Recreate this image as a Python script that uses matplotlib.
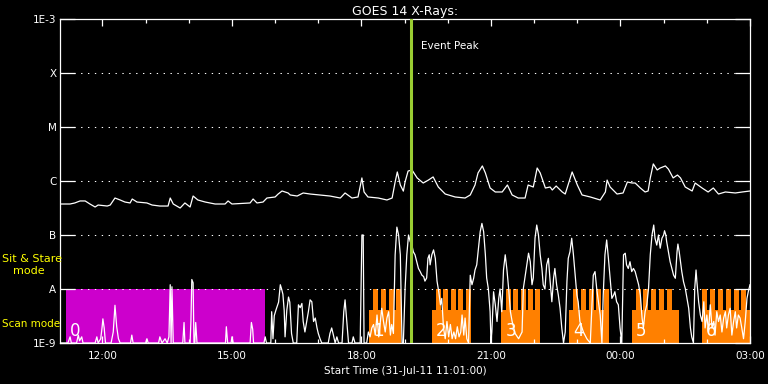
import numpy as np
import matplotlib
matplotlib.use('Agg')
import matplotlib.pyplot as plt
from matplotlib.ticker import MultipleLocator, NullFormatter, NullLocator

# GOES 14, hours counted from 00:00 on 31-Jul-11 (24 = 00:00 1-Aug)
long_hours = [11.02, 11.25, 11.36, 11.48, 11.60, 11.71, 11.83, 11.90, 12.11, 12.18, 12.29, 12.41,
              12.52, 12.64, 12.69, 12.80, 13.03, 13.15, 13.33, 13.52, 13.57, 13.64, 13.80, 13.91,
              14.03, 14.10, 14.21, 14.38, 14.61, 14.84, 14.91, 15.00, 15.42, 15.49, 15.58, 15.72,
              15.81, 16.00, 16.07, 16.16, 16.30, 16.35, 16.51, 16.65, 16.81, 17.04, 17.27, 17.51,
              17.62, 17.78, 17.92, 18.01, 18.06, 18.15, 18.39, 18.59, 18.71, 18.78, 18.83, 18.90,
              18.97, 19.01, 19.08, 19.17, 19.29, 19.43, 19.55, 19.66, 19.78, 19.94, 20.17, 20.40,
              20.52, 20.63, 20.70, 20.80, 20.87, 20.98, 21.10, 21.26, 21.38, 21.49, 21.63, 21.79,
              21.86, 21.98, 22.07, 22.14, 22.26, 22.37, 22.42, 22.51, 22.65, 22.72, 22.88, 23.00,
              23.11, 23.30, 23.53, 23.65, 23.69, 23.76, 23.92, 24.06, 24.16, 24.27, 24.34, 24.46,
              24.57, 24.64, 24.69, 24.76, 24.85, 24.92, 25.04, 25.11, 25.22, 25.32, 25.39, 25.50,
              25.66, 25.73, 25.89, 26.03, 26.15, 26.27, 26.43, 26.66, 26.82, 27.00]
long_flux = [3.75e-7, 3.75e-7, 3.92e-7, 4.27e-7, 4.27e-7, 3.75e-7, 3.30e-7, 3.59e-7, 3.44e-7, 3.59e-7,
             4.84e-7, 4.45e-7, 4.08e-7, 3.92e-7, 4.64e-7, 4.08e-7, 3.92e-7, 3.59e-7, 3.44e-7, 3.44e-7,
             4.84e-7, 3.75e-7, 3.16e-7, 3.92e-7, 3.30e-7, 5.27e-7, 4.45e-7, 4.08e-7, 3.75e-7, 3.75e-7,
             4.27e-7, 3.75e-7, 3.92e-7, 4.64e-7, 3.92e-7, 4.08e-7, 4.84e-7, 5.06e-7, 5.74e-7, 6.53e-7,
             6.00e-7, 5.51e-7, 5.27e-7, 6.00e-7, 5.74e-7, 5.51e-7, 5.27e-7, 4.84e-7, 6.00e-7, 4.84e-7,
             5.06e-7, 1.14e-6, 6.26e-7, 5.06e-7, 4.84e-7, 4.45e-7, 4.84e-7, 9.58e-7, 1.47e-6, 8.43e-7,
             6.50e-7, 9.60e-7, 1.53e-6, 1.60e-6, 1.14e-6, 9.18e-7, 1.04e-6, 1.19e-6, 7.74e-7, 5.74e-7,
             5.06e-7, 4.84e-7, 5.51e-7, 8.43e-7, 1.41e-6, 1.90e-6, 1.41e-6, 7.42e-7, 6.26e-7, 6.26e-7,
             8.43e-7, 5.51e-7, 4.84e-7, 4.84e-7, 8.43e-7, 7.74e-7, 1.74e-6, 1.41e-6, 7.42e-7, 7.74e-7,
             6.81e-7, 8.08e-7, 6.26e-7, 5.74e-7, 1.47e-6, 8.43e-7, 5.51e-7, 5.06e-7, 4.45e-7, 6.26e-7,
             1.04e-6, 7.74e-7, 5.74e-7, 6.00e-7, 9.58e-7, 9.18e-7, 9.18e-7, 7.42e-7, 6.26e-7, 6.53e-7,
             1.14e-6, 2.07e-6, 1.60e-6, 1.74e-6, 1.90e-6, 1.66e-6, 1.14e-6, 1.29e-6, 1.14e-6, 7.74e-7,
             6.53e-7, 9.18e-7, 7.42e-7, 6.26e-7, 7.42e-7, 5.74e-7, 6.26e-7, 6.00e-7, 6.26e-7, 6.53e-7]

short_hours = [11.02, 11.20, 11.25, 11.28, 11.40, 11.44, 11.47, 11.52, 11.55, 11.83, 11.87, 11.90,
               11.96, 11.99, 12.01, 12.04, 12.07, 12.20, 12.25, 12.29, 12.33, 12.37, 12.41, 12.65,
               12.68, 12.71, 13.00, 13.03, 13.06, 13.30, 13.33, 13.38, 13.45, 13.50, 13.54, 13.57,
               13.59, 13.61, 13.64, 13.86, 13.89, 13.91, 14.03, 14.05, 14.07, 14.10, 14.12, 14.14,
               14.16, 14.19, 14.85, 14.87, 14.90, 14.98, 15.00, 15.03, 15.42, 15.45, 15.48, 15.50,
               15.74, 15.77, 15.80, 15.90, 15.92, 15.95, 15.98, 16.02, 16.08, 16.12, 16.15, 16.18,
               16.21, 16.23, 16.27, 16.31, 16.34, 16.38, 16.42, 16.50, 16.54, 16.58, 16.62, 16.65,
               16.69, 16.73, 16.77, 16.81, 16.85, 16.89, 16.93, 16.97, 17.00, 17.04, 17.08, 17.23,
               17.27, 17.31, 17.35, 17.39, 17.43, 17.47, 17.55, 17.59, 17.62, 17.66, 17.70, 17.78,
               17.81, 17.85, 17.97, 18.01, 18.04, 18.06, 18.12, 18.16, 18.20, 18.24, 18.28, 18.32,
               18.36, 18.40, 18.43, 18.47, 18.51, 18.55, 18.59, 18.63, 18.67, 18.70, 18.74, 18.78,
               18.82, 18.86, 18.90, 18.94, 18.97, 19.01, 19.05, 19.09, 19.13, 19.16, 19.20, 19.24,
               19.28, 19.32, 19.36, 19.40, 19.44, 19.47, 19.51, 19.54, 19.57, 19.59, 19.63, 19.67,
               19.71, 19.75, 19.79, 19.83, 19.86, 19.90, 19.94, 19.98, 20.02, 20.06, 20.10, 20.14,
               20.18, 20.22, 20.26, 20.30, 20.33, 20.37, 20.40, 20.44, 20.48, 20.52, 20.56, 20.60,
               20.63, 20.67, 20.71, 20.75, 20.79, 20.83, 20.87, 20.90, 20.94, 20.98, 21.00, 21.02,
               21.06, 21.10, 21.14, 21.18, 21.21, 21.25, 21.29, 21.33, 21.37, 21.41, 21.45, 21.49,
               21.56, 21.64, 21.72, 21.75, 21.83, 21.87, 21.91, 21.95, 21.98, 22.02, 22.06, 22.10,
               22.14, 22.18, 22.21, 22.25, 22.29, 22.33, 22.37, 22.41, 22.45, 22.48, 22.52, 22.56,
               22.60, 22.64, 22.68, 22.72, 22.76, 22.79, 22.83, 22.87, 22.91, 22.95, 22.99, 23.02,
               23.06, 23.14, 23.22, 23.30, 23.37, 23.41, 23.45, 23.53, 23.57, 23.60, 23.64, 23.68,
               23.72, 23.76, 23.80, 23.84, 23.87, 23.91, 23.95, 23.99, 24.03, 24.07, 24.11, 24.14,
               24.18, 24.22, 24.26, 24.30, 24.34, 24.38, 24.42, 24.46, 24.50, 24.53, 24.57, 24.61,
               24.65, 24.69, 24.73, 24.77, 24.80, 24.84, 24.88, 24.92, 24.96, 25.00, 25.02, 25.05,
               25.07, 25.11, 25.15, 25.19, 25.23, 25.27, 25.31, 25.33, 25.36, 25.39, 25.42, 25.46,
               25.50, 25.54, 25.58, 25.62, 25.65, 25.69, 25.72, 25.75, 25.77, 25.81, 25.85, 25.89,
               25.93, 25.96, 26.00, 26.04, 26.08, 26.12, 26.16, 26.19, 26.23, 26.27, 26.31, 26.35,
               26.39, 26.43, 26.46, 26.50, 26.54, 26.58, 26.62, 26.66, 26.69, 26.73, 26.77, 26.81,
               26.85, 26.89, 26.93, 26.96, 27.00]
short_flux = [1.0e-9, 1.0e-9, 1.3e-9, 1.0e-9, 1.0e-9, 1.4e-9, 1.1e-9, 1.3e-9, 1.0e-9, 1.0e-9, 1.3e-9, 1.0e-9,
              1.2e-9, 1.9e-9, 2.8e-9, 1.9e-9, 1.0e-9, 1.0e-9, 1.6e-9, 5.0e-9, 2.0e-9, 1.2e-9, 1.0e-9, 1.0e-9,
              1.4e-9, 1.0e-9, 1.0e-9, 1.2e-9, 1.0e-9, 1.0e-9, 1.3e-9, 1.0e-9, 1.2e-9, 1.0e-9, 1.3e-9, 1.2e-8,
              1.0e-9, 1.1e-8, 1.0e-9, 1.0e-9, 2.4e-9, 1.0e-9, 1.0e-9, 2.6e-9, 1.5e-8, 1.3e-8, 1.0e-9, 1.0e-9,
              2.4e-9, 1.0e-9, 1.0e-9, 2.0e-9, 1.0e-9, 1.0e-9, 1.3e-9, 1.0e-9, 1.0e-9, 2.4e-9, 1.8e-9, 1.0e-9,
              1.0e-9, 1.3e-9, 1.0e-9, 1.0e-9, 3.8e-9, 1.2e-9, 3.2e-9, 4.1e-9, 5.7e-9, 1.2e-8, 1.0e-8, 8.0e-9,
              4.0e-9, 1.3e-9, 4.0e-9, 7.1e-9, 5.7e-9, 1.5e-9, 1.0e-9, 1.0e-9, 5.1e-9, 4.5e-9, 5.4e-9, 2.5e-9,
              1.6e-9, 2.5e-9, 3.8e-9, 6.3e-9, 5.8e-9, 2.5e-9, 2.9e-9, 1.9e-9, 1.5e-9, 1.2e-9, 1.0e-9, 1.0e-9,
              1.5e-9, 1.9e-9, 1.4e-9, 1.0e-9, 1.3e-9, 1.0e-9, 1.0e-9, 3.8e-9, 6.3e-9, 2.5e-9, 1.0e-9, 1.0e-9,
              1.3e-9, 1.0e-9, 1.0e-9, 1.0e-7, 1.0e-7, 1.0e-9, 1.0e-9, 1.6e-9, 1.3e-9, 1.9e-9, 2.2e-9, 1.4e-9,
              3.3e-9, 1.3e-9, 2.2e-9, 4.4e-9, 2.5e-9, 1.6e-9, 2.9e-9, 3.8e-9, 1.4e-9, 2.2e-9, 1.5e-9, 4.3e-8,
              1.4e-7, 1.0e-7, 4.3e-8, 1.0e-9, 1.0e-9, 1.0e-8, 4.3e-8, 1.0e-7, 7.5e-8, 7.0e-8, 4.9e-8, 4.3e-8,
              3.2e-8, 2.4e-8, 2.1e-8, 1.8e-8, 1.7e-8, 1.4e-8, 1.6e-8, 3.7e-8, 4.3e-8, 2.8e-8, 4.3e-8, 5.3e-8,
              3.7e-8, 1.4e-8, 8.9e-9, 5.1e-9, 6.7e-9, 1.9e-9, 1.2e-9, 2.5e-9, 1.3e-9, 2.2e-9, 1.2e-9, 1.6e-9,
              1.2e-9, 2.0e-9, 1.3e-9, 1.6e-9, 3.3e-9, 1.4e-9, 2.9e-9, 1.2e-9, 1.0e-9, 1.8e-8, 1.2e-8, 1.6e-8,
              2.25e-8, 2.8e-8, 5.7e-8, 1.15e-7, 1.64e-7, 1.15e-7, 4.3e-8, 1.6e-8, 1.0e-8, 3.8e-9, 1.0e-9, 1.6e-9,
              8.9e-9, 5.1e-9, 2.5e-9, 6.7e-9, 1.0e-8, 3.8e-9, 2.25e-8, 4.3e-8, 2.25e-8, 1.0e-8, 3.8e-9, 2.5e-9,
              1.5e-9, 1.2e-9, 1.6e-9, 1.03e-8, 2.8e-8, 4.6e-8, 3.2e-8, 1.2e-8, 1.6e-8, 8.7e-8, 1.53e-7, 1.0e-7,
              4.3e-8, 2.4e-8, 1.2e-8, 1.0e-8, 2.8e-8, 3.7e-8, 1.4e-8, 5.8e-9, 1.6e-8, 2.4e-8, 1.2e-8, 7.7e-9,
              4.4e-9, 1.9e-9, 1.0e-9, 1.6e-9, 1.4e-8, 3.7e-8, 4.9e-8, 8.7e-8, 4.3e-8, 1.8e-8, 7.7e-9, 5.8e-9,
              2.5e-9, 1.6e-9, 1.2e-9, 1.0e-9, 1.8e-8, 2.1e-8, 1.0e-8, 3.3e-9, 1.0e-9, 7.7e-9, 4.3e-8, 8.1e-8,
              3.7e-8, 1.6e-8, 6.7e-9, 7.7e-9, 8.9e-9, 5.8e-9, 5.1e-9, 1.9e-9, 1.0e-9, 4.3e-8, 4.6e-8, 2.8e-8,
              2.4e-8, 3.2e-8, 2.1e-8, 2.4e-8, 2.1e-8, 1.6e-8, 1.2e-8, 7.7e-9, 2.9e-9, 1.9e-9, 3.8e-9, 5.1e-9,
              1.03e-8, 4.3e-8, 1.0e-7, 1.53e-7, 8.7e-8, 6.5e-8, 1.0e-7, 5.7e-8, 8.7e-8, 1.0e-7, 1.2e-7, 1.0e-7,
              7.5e-8, 4.9e-8, 3.2e-8, 2.4e-8, 1.8e-8, 1.58e-8, 4.9e-8, 6.8e-8, 4.9e-8, 3.2e-8, 2.1e-8, 1.36e-8,
              1.03e-8, 6.7e-9, 4.4e-9, 1.9e-9, 1.3e-9, 1.0e-9, 1.03e-8, 2.25e-8, 1.36e-8, 5.8e-9, 3.3e-9, 2.5e-9,
              5.8e-9, 1.9e-9, 3.3e-9, 1.6e-9, 5.1e-9, 1.9e-9, 2.5e-9, 1.4e-9, 3.8e-9, 2.5e-9, 3.3e-9, 1.6e-9,
              2.9e-9, 3.8e-9, 1.9e-9, 3.3e-9, 4.4e-9, 1.4e-9, 2.5e-9, 3.8e-9, 1.9e-9, 3.3e-9, 2.9e-9, 1.9e-9,
              1.2e-9, 2.5e-9, 6.7e-9, 8.9e-9, 1.2e-8]

# observing modes (hours)
stare_start, stare_end = 11.16, 15.77
scan_start = [18.18, 19.63, 21.24, 22.81, 24.27, 25.89]
scan_end = [18.91, 20.54, 22.14, 23.74, 25.36, 26.99]
scan_steps = [
    [18.26, 18.45, 18.63, 18.80],
    [19.72, 19.89, 20.07, 20.24, 20.42],
    [21.34, 21.51, 21.69, 21.86, 22.03],
    [22.90, 23.08, 23.26, 23.43, 23.61],
    [24.35, 24.53, 24.70, 24.89, 25.07],
    [25.89, 26.07, 26.25, 26.44, 26.62, 26.80],
]
step_len = 0.115
event_peak = 19.14

ytick_vals = [1e-9, 1e-8, 1e-7, 1e-6, 1e-5, 1e-4, 1e-3]
ytick_labels = ['1E-9', 'A', 'B', 'C', 'M', 'X', '1E-3']
xtick_vals = [12, 15, 18, 21, 24, 27]
xtick_labels = ['12:00', '15:00', '18:00', '21:00', '00:00', '03:00']

magenta = '#cc00cc'
orange = '#ff8000'

fig = plt.figure(figsize=(7.68, 3.84), dpi=100, facecolor='black')
ax = fig.add_axes([60/768, 41/384, 690/768, 324/384], facecolor='black')
ax.set_yscale('log')
ax.set_ylim(1e-9, 1e-3)
ax.set_xlim(11 + 1/60, 27)

# mode blocks
ax.bar(stare_start, 1e-8 - 1e-9, width=stare_end - stare_start, bottom=1e-9,
       align='edge', color=magenta, linewidth=0, zorder=1)
for i in range(len(scan_start)):
    ax.bar(scan_start[i], 4.1e-9 - 1e-9, width=scan_end[i] - scan_start[i], bottom=1e-9,
           align='edge', color=orange, linewidth=0, zorder=1)
    ax.bar(scan_steps[i], 1e-8 - 1e-9, width=step_len, bottom=1e-9,
           align='edge', color=orange, linewidth=0, zorder=1)
    ax.text(scan_start[i] + 0.09, 1.12e-9, str(i + 1), color='white', fontsize=12,
            va='bottom', ha='left', zorder=4)
ax.text(stare_start + 0.09, 1.12e-9, '0', color='white', fontsize=12,
        va='bottom', ha='left', zorder=4)

# grid
for v in ytick_vals[1:-1]:
    ax.axhline(v, color='white', lw=0.75, dashes=(1.3, 5.3), zorder=2)

ax.plot(long_hours, long_flux, color='white', lw=0.9, zorder=3)
ax.plot(short_hours, short_flux, color='white', lw=0.9, zorder=3)

ax.axvline(event_peak, color='#9acd32', lw=2.2, zorder=5)
ax.text(event_peak + 0.24, 3.2e-4, 'Event Peak', color='white', fontsize=7.5, va='center')

for s in ax.spines.values():
    s.set_color('white')
    s.set_linewidth(0.9)

ax.set_yticks(ytick_vals, ytick_labels)
ax.yaxis.set_minor_locator(NullLocator())
ax.yaxis.set_minor_formatter(NullFormatter())
ax.tick_params(axis='y', which='major', direction='in', length=11, width=0.9,
               colors='white', left=True, right=True, pad=2.5, labelsize=7.5)
ax.set_xticks(xtick_vals, xtick_labels)
ax.xaxis.set_minor_locator(MultipleLocator(1))
ax.tick_params(axis='x', which='major', direction='in', length=5, width=0.9,
               colors='white', top=True, bottom=True, pad=6, labelsize=7.5)
ax.tick_params(axis='x', which='minor', direction='in', length=3, width=0.9,
               colors='white', top=True, bottom=True)

ax.set_title('GOES 14 X-Rays:', color='white', fontsize=9, pad=3)
ax.set_xlabel('Start Time (31-Jul-11 11:01:00)', color='white', fontsize=7.5, labelpad=3)

fig.text(2/768, 1 - 259/384, 'Sit & Stare', color='yellow', fontsize=8, va='center')
fig.text(13/768, 1 - 271/384, 'mode', color='yellow', fontsize=8, va='center')
fig.text(2/768, 1 - 324/384, 'Scan mode', color='yellow', fontsize=7.5, va='center')

fig.savefig('out.png', dpi=100, facecolor='black')
